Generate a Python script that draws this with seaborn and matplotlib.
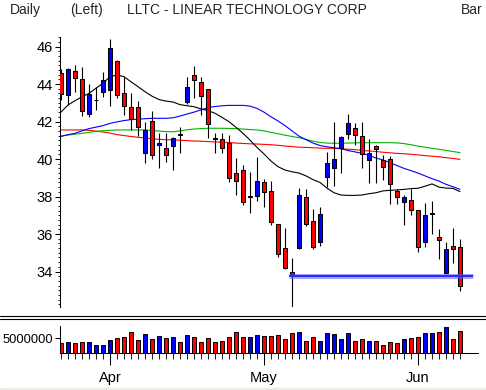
import numpy as np
import pandas as pd
import matplotlib
matplotlib.use("Agg")
import matplotlib.pyplot as plt
import seaborn as sns
from matplotlib.lines import Line2D
from matplotlib.patches import Rectangle
from matplotlib.ticker import FixedLocator, MultipleLocator

# daily OHLC (one entry per trading day)
opens = [44.57, 43.40, 44.68, 44.25, 42.40, 43.13, 43.56, 43.68, 45.24, 43.50,
         42.77, 42.77, 40.30, 42.04, 40.77, 40.59, 40.69, 41.34, 43.06, 44.46,
         44.09, 43.72, 41.10, 41.05, 40.87, 39.24, 39.41, 38.00, 38.04, 38.76,
         38.29, 36.52, 35.24, 33.99, 35.27, 37.95, 36.69, 35.56, 39.02, 39.50,
         40.60, 41.32, 41.64, 41.23, 39.95, 40.69, 39.95, 39.98, 38.31, 37.71,
         37.81, 37.28, 35.56, 37.08, 35.86, 33.90, 35.36, 35.29]
highs = [44.78, 44.84, 45.01, 44.92, 44.00, 43.86, 44.62, 46.38, 45.26, 44.39,
         43.50, 43.09, 41.99, 42.58, 41.37, 41.37, 41.16, 41.72, 44.39, 44.96,
         44.36, 43.74, 41.37, 41.40, 41.28, 40.07, 39.68, 39.32, 40.12, 38.92,
         38.83, 36.55, 36.30, 34.70, 38.45, 38.39, 37.32, 37.42, 40.39, 41.96,
         41.23, 42.40, 41.90, 41.99, 41.05, 40.76, 40.21, 40.16, 38.39, 38.08,
         38.39, 37.30, 37.64, 37.76, 36.25, 35.59, 36.34, 35.72]
lows = [43.15, 42.88, 43.59, 42.31, 42.22, 42.61, 43.32, 42.84, 43.24, 42.35,
        41.55, 41.23, 39.77, 39.98, 39.50, 39.86, 39.41, 40.34, 42.93, 43.24,
        42.35, 41.10, 40.30, 40.30, 38.80, 38.08, 37.55, 37.14, 37.78, 37.46,
        36.48, 34.79, 34.12, 32.09, 35.20, 36.43, 35.20, 35.38, 38.49, 38.58,
        39.24, 41.05, 40.75, 39.54, 38.74, 38.74, 38.88, 37.60, 37.58, 36.48,
        37.01, 35.06, 35.29, 36.00, 34.67, 33.85, 34.47, 32.98]
closes = [43.47, 44.78, 44.30, 42.56, 43.45, 43.17, 44.21, 45.90, 43.40, 42.83,
          42.12, 41.72, 41.55, 40.21, 40.87, 40.20, 41.10, 41.30, 43.82, 44.20,
          43.36, 41.85, 41.06, 40.57, 39.00, 38.84, 37.72, 38.04, 38.83, 38.26,
          36.62, 34.95, 34.20, 33.85, 38.08, 36.53, 35.32, 37.05, 39.77, 39.98,
          41.16, 41.90, 41.26, 40.27, 40.30, 40.55, 39.56, 38.65, 37.99, 37.99,
          37.28, 35.29, 37.01, 37.12, 35.68, 35.18, 35.18, 33.23]
volume = [3.26e6, 3.60e6, 3.26e6, 3.60e6, 3.60e6, 2.67e6, 2.67e6, 4.30e6, 5.00e6, 5.47e6,
          7.09e6, 4.30e6, 6.50e6, 4.65e6, 5.80e6, 5.00e6, 5.47e6, 3.60e6, 6.16e6, 5.35e6,
          3.60e6, 5.00e6, 3.60e6, 3.95e6, 5.35e6, 7.09e6, 5.35e6, 5.35e6, 6.16e6, 5.70e6,
          5.70e6, 6.16e6, 4.65e6, 6.74e6, 7.09e6, 3.95e6, 5.35e6, 3.95e6, 6.74e6, 6.40e6,
          4.65e6, 6.74e6, 3.95e6, 4.65e6, 3.95e6, 3.95e6, 2.56e6, 3.60e6, 3.26e6, 4.65e6,
          5.00e6, 5.35e6, 6.74e6, 6.74e6, 7.09e6, 8.84e6, 4.65e6, 7.44e6]

# moving averages as drawn on the reference
ma_black = [42.50, 42.88, 43.11, 43.32, 43.50, 43.77, 44.04, 44.39, 44.48, 44.39,
            44.12, 43.86, 43.59, 43.35, 43.17, 43.09, 43.04, 42.90, 42.84, 42.79,
            42.67, 42.58, 42.44, 42.22, 41.99, 41.69, 41.37, 41.01, 40.62, 40.27,
            39.89, 39.59, 39.41, 39.32, 39.25, 39.10, 38.90, 38.75, 38.45, 38.20,
            38.08, 38.06, 38.06, 38.08, 38.15, 38.20, 38.30, 38.33, 38.35, 38.38,
            38.42, 38.44, 38.55, 38.67, 38.50, 38.45, 38.43, 38.26]
ma_blue = [41.20, 41.30, 41.37, 41.50, 41.62, 41.70, 41.78, 41.90, 41.98, 42.05,
           42.10, 42.12, 42.15, 42.17, 42.17, 42.17, 42.20, 42.29, 42.40, 42.50,
           42.62, 42.74, 42.80, 42.84, 42.86, 42.86, 42.86, 42.82, 42.70, 42.50,
           42.25, 42.03, 41.78, 41.50, 41.22, 41.03, 40.85, 40.72, 40.65, 40.60,
           40.55, 40.45, 40.38, 40.30, 40.20, 40.05, 39.95, 39.80, 39.65, 39.50,
           39.38, 39.25, 39.10, 38.95, 38.82, 38.65, 38.52, 38.38]
ma_green = [41.23, 41.28, 41.32, 41.37, 41.42, 41.47, 41.51, 41.53, 41.55, 41.55,
            41.55, 41.55, 41.55, 41.52, 41.49, 41.46, 41.45, 41.50, 41.56, 41.60,
            41.62, 41.64, 41.64, 41.64, 41.63, 41.62, 41.60, 41.57, 41.55, 41.50,
            41.42, 41.35, 41.27, 41.20, 41.14, 41.05, 40.95, 40.88, 40.85, 40.84,
            40.84, 40.85, 40.86, 40.87, 40.87, 40.87, 40.87, 40.87, 40.86, 40.82,
            40.76, 40.69, 40.63, 40.57, 40.52, 40.46, 40.40, 40.34]
ma_red = [41.55, 41.55, 41.55, 41.55, 41.53, 41.49, 41.44, 41.38, 41.30, 41.25,
          41.20, 41.16, 41.12, 41.08, 41.05, 41.03, 41.02, 41.00, 40.98, 40.96,
          40.95, 40.93, 40.91, 40.90, 40.88, 40.85, 40.83, 40.81, 40.80, 40.78,
          40.76, 40.73, 40.69, 40.66, 40.63, 40.62, 40.60, 40.58, 40.57, 40.57,
          40.55, 40.52, 40.50, 40.46, 40.43, 40.40, 40.36, 40.33, 40.30, 40.28,
          40.25, 40.22, 40.18, 40.15, 40.12, 40.07, 40.03, 39.98]

month_pos = [7, 29, 51]
month_labels = ["Apr", "May", "Jun"]
support_level = 33.78
support_span = [32.6, 58.8]

df = pd.DataFrame({"open": opens, "high": highs, "low": lows,
                   "close": closes, "volume": volume})
df["day"] = np.arange(len(df))
df["dir"] = np.where(df["close"] >= df["open"], "up", "down")
pal = {"up": "#0000ff", "down": "#ff0000"}

sns.set_style("white")
plt.rcParams["font.family"] = ["Liberation Sans Narrow", "Liberation Sans", "DejaVu Sans"]
plt.rcParams["font.size"] = 10

W, H = 486, 390
fig = plt.figure(figsize=(W / 100, H / 100), dpi=100)
ax = fig.add_axes([60 / W, 1 - 307 / H, 418 / W, 270 / H])
axv = fig.add_axes([60 / W, 1 - 352.7 / H, 418 / W, 26.7 / H])
xlim = (-0.14, 59.57)

# price panel
for ma, col in [(ma_red, "#ff0000"), (ma_green, "#00b400"), (ma_blue, "#0000ff"), (ma_black, "black")]:
    sns.lineplot(x=df["day"], y=ma, color=col, linewidth=0.8, ax=ax, zorder=1)
ax.vlines(df["day"], df["low"], df["high"], color="black", linewidth=0.8, zorder=2)
body = (df["close"] - df["open"]).abs().clip(lower=0.03)
ax.bar(df["day"], body, bottom=np.minimum(df["open"], df["close"]), width=0.6,
       color=df["dir"].map(pal), edgecolor="black", linewidth=0.75, zorder=3)
ax.plot(support_span, [support_level] * 2, color="#5a5aff", lw=3.6, alpha=0.55,
        solid_capstyle="butt", zorder=4)
ax.plot(support_span, [support_level] * 2, color="#2828ff", lw=1.4,
        solid_capstyle="butt", zorder=4)

ax.set_xlim(*xlim)
ax.set_ylim(32.107, 46.507)
ax.set_xticks([])
ax.yaxis.set_major_locator(MultipleLocator(2))
ax.yaxis.set_minor_locator(MultipleLocator(0.25))
ax.tick_params(axis="y", which="major", left=True, length=3.6, width=0.75, pad=1.5,
               colors="black", labelsize=10.5)
ax.tick_params(axis="y", which="minor", left=True, length=1.8, width=0.75)
ax.set_xlabel("")
ax.set_ylabel("")
for s in ["top", "right", "bottom"]:
    ax.spines[s].set_visible(False)
ax.spines["left"].set_color("black")
ax.spines["left"].set_linewidth(0.75)

# volume panel
sns.barplot(data=df, x="day", y="volume", hue="dir", palette=pal, dodge=False,
            native_scale=True, width=0.55, edgecolor="black", linewidth=0.7,
            errorbar=None, legend=False, saturation=1, ax=axv)
axv.set_xlim(*xlim)
axv.set_ylim(0, 9.2e6)
axv.set_yticks([5e6])
axv.set_yticklabels(["5000000"])
axv.set_xticks(month_pos)
axv.set_xticklabels(month_labels)
axv.xaxis.set_minor_locator(FixedLocator(df["day"].tolist()))
axv.tick_params(axis="x", which="major", bottom=True, length=8.4, width=0.75, pad=5,
                colors="black", labelsize=10.5)
axv.tick_params(axis="x", which="minor", bottom=True, length=4.1, width=0.75)
axv.tick_params(axis="y", which="major", left=True, length=3.6, width=0.75, pad=1.2,
                colors="black", labelsize=9.3)
axv.set_xlabel("")
axv.set_ylabel("")
for s in ["top", "right"]:
    axv.spines[s].set_visible(False)
for s in ["left", "bottom"]:
    axv.spines[s].set_color("black")
    axv.spines[s].set_linewidth(0.75)

# panel separator and header
for yy in [316, 318.5]:
    fig.add_artist(Line2D([0, 1], [1 - yy / H] * 2, color="black", lw=0.8,
                          transform=fig.transFigure))
fig.patches.append(Rectangle((0, 0), 1, 2 / H, transform=fig.transFigure,
                             color="#ecebe6", zorder=0))
ty = 1 - 14 / H
fig.text(10 / W, ty, "Daily", va="baseline", ha="left")
fig.text(70 / W, ty, "(Left)", va="baseline", ha="left")
fig.text(127 / W, ty, "LLTC - LINEAR TECHNOLOGY CORP", va="baseline", ha="left")
fig.text(483 / W, ty, "Bar", va="baseline", ha="right")

fig.savefig("out.png", dpi=100)
